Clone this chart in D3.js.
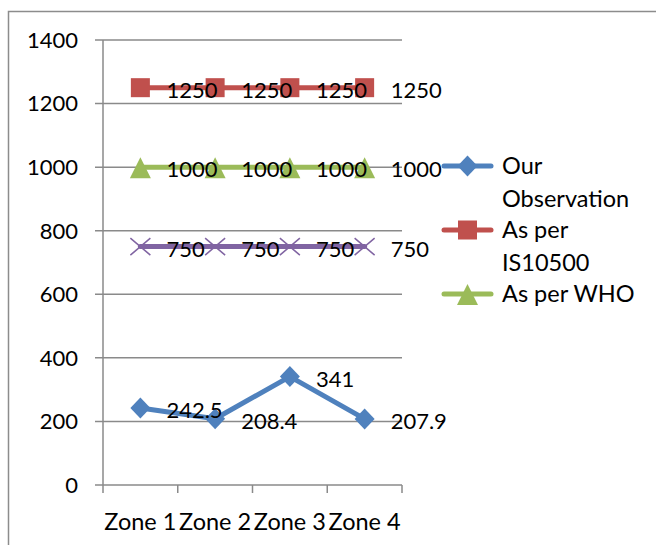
<!DOCTYPE html>
<html>
<head>
<meta charset="utf-8">
<script src="https://cdn.jsdelivr.net/npm/d3@7"></script>
<style>
  html, body { margin: 0; padding: 0; background: #fff; }
  svg text { font-family: Lato, "Open Sans", sans-serif; fill: #000; }
</style>
</head>
<body>
<svg id="chart" width="656" height="545"></svg>
<script>
// Zones along the x axis
const categories = ["Zone 1", "Zone 2", "Zone 3", "Zone 4"];
// Series values
const ourObservation = [242.5, 208.4, 341, 207.9];
const asPerIS10500 = [1250, 1250, 1250, 1250];
const asPerWHO = [1000, 1000, 1000, 1000];
const fourthSeries = [750, 750, 750, 750];
// Y axis ticks
const yTicks = [0, 200, 400, 600, 800, 1000, 1200, 1400];

const seriesList = [
  { name: "Our Observation", legend: ["Our", "Observation"], values: ourObservation, color: "#4F81BD", marker: "diamond" },
  { name: "As per IS10500", legend: ["As per", "IS10500"], values: asPerIS10500, color: "#C0504D", marker: "square" },
  { name: "As per WHO", legend: ["As per WHO"], values: asPerWHO, color: "#9BBB59", marker: "triangle" },
  { name: "Series 4", legend: null, values: fourthSeries, color: "#8064A2", marker: "cross" }
];

const svg = d3.select("#chart");
const numSize = 22;    // numbers: tick and data labels
const wordSize = 23.5; // words: category and legend labels

// outer chart frame
svg.append("rect")
  .attr("x", 8.5).attr("y", 11.5)
  .attr("width", 700).attr("height", 600)
  .attr("fill", "none").attr("stroke", "#8c8c8c").attr("stroke-width", 1.5);

const plot = { left: 103, right: 402, top: 40, bottom: 485 };

const x = d3.scaleBand().domain(categories).range([plot.left, plot.right]);
const y = d3.scaleLinear().domain([0, 1400]).range([plot.bottom, plot.top]);

const gridColor = "#8a8a8a";

// horizontal gridlines (with outward tick stubs)
svg.append("g").selectAll("line").data(yTicks).join("line")
  .attr("x1", plot.left - 8).attr("x2", plot.right)
  .attr("y1", d => y(d)).attr("y2", d => y(d))
  .attr("stroke", gridColor).attr("stroke-width", 1.5);

// y axis line
svg.append("line")
  .attr("x1", plot.left).attr("x2", plot.left)
  .attr("y1", plot.top).attr("y2", plot.bottom)
  .attr("stroke", gridColor).attr("stroke-width", 1.5);

// y tick labels
svg.append("g").selectAll("text").data(yTicks).join("text")
  .attr("x", plot.left - 25).attr("y", d => y(d))
  .attr("dy", "0.36em")
  .attr("text-anchor", "end")
  .attr("font-size", numSize)
  .text(d => d);

// x tick marks at category boundaries
const boundaries = categories.map(c => x(c)).concat([x(categories[categories.length - 1]) + x.bandwidth()]);
svg.append("g").selectAll("line").data(boundaries).join("line")
  .attr("x1", d => d).attr("x2", d => d)
  .attr("y1", plot.bottom).attr("y2", plot.bottom + 8)
  .attr("stroke", gridColor).attr("stroke-width", 1.5);

// x category labels
svg.append("g").selectAll("text").data(categories).join("text")
  .attr("x", d => x(d) + x.bandwidth() / 2)
  .attr("y", 522).attr("dy", "0.36em")
  .attr("text-anchor", "middle")
  .attr("font-size", wordSize)
  .text(d => d);

const cx = c => x(c) + x.bandwidth() / 2;

function drawMarker(g, type, color, px, py) {
  if (type === "square") {
    g.append("rect")
      .attr("x", px - 9.5).attr("y", py - 9.5)
      .attr("width", 19).attr("height", 19)
      .attr("fill", color);
  } else if (type === "diamond") {
    g.append("path")
      .attr("d", `M${px},${py - 10.5}L${px + 10},${py}L${px},${py + 10.5}L${px - 10},${py}Z`)
      .attr("fill", color);
  } else if (type === "triangle") {
    g.append("path")
      .attr("d", `M${px},${py - 10}L${px + 10.5},${py + 11}L${px - 10.5},${py + 11}Z`)
      .attr("fill", color);
  } else if (type === "cross") {
    g.append("path")
      .attr("d", `M${px - 10},${py - 8.5}L${px + 10},${py + 8.5}M${px - 10},${py + 8.5}L${px + 10},${py - 8.5}`)
      .attr("stroke", color).attr("stroke-width", 1.5).attr("fill", "none");
  }
}

const line = d3.line().x((d, i) => cx(categories[i])).y(d => y(d));

// series drawn in reverse so the observation line ends on top
[...seriesList].reverse().forEach(s => {
  const g = svg.append("g");
  g.append("path").datum(s.values)
    .attr("d", line)
    .attr("fill", "none").attr("stroke", s.color).attr("stroke-width", 5)
    .attr("stroke-linejoin", "round").attr("stroke-linecap", "round");
  s.values.forEach((v, i) => drawMarker(g, s.marker, s.color, cx(categories[i]), y(v)));
});

// data labels to the right of each point
seriesList.forEach(s => {
  svg.append("g").selectAll("text").data(s.values).join("text")
    .attr("x", (d, i) => cx(categories[i]) + 26)
    .attr("y", d => y(d) + 2).attr("dy", "0.36em")
    .attr("font-size", numSize)
    .text(d => d);
});

// legend
const legendItems = seriesList.filter(s => s.legend);
const legendRows = [166, 230, 294];
legendItems.forEach((s, k) => {
  const ly = legendRows[k];
  const g = svg.append("g");
  g.append("line").attr("x1", 444).attr("x2", 491).attr("y1", ly).attr("y2", ly)
    .attr("stroke", s.color).attr("stroke-width", 5).attr("stroke-linecap", "round");
  drawMarker(g, s.marker, s.color, 467.5, ly);
  s.legend.forEach((t, j) => {
    g.append("text").attr("x", 502).attr("y", ly + j * 33).attr("dy", "0.36em")
      .attr("font-size", wordSize).text(t);
  });
});
</script>
</body>
</html>
